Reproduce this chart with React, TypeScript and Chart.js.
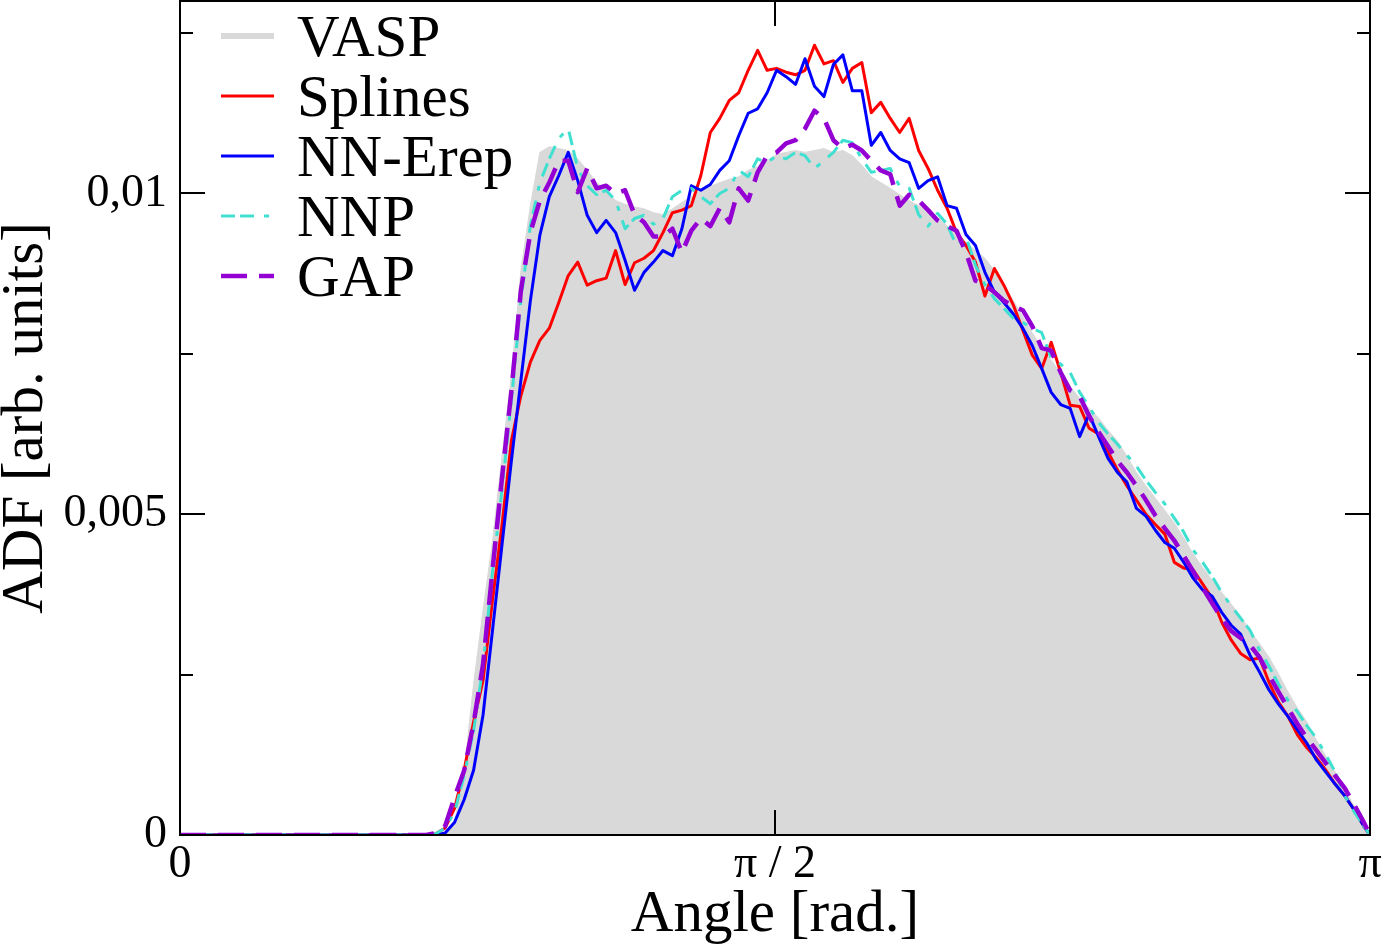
import React, { useEffect, useRef } from "react";
import { Chart, ChartConfiguration, Plugin, registerables } from "chart.js";

Chart.register(...registerables);

// angle in radians, shared by every series
const angles = [
  0, 0.3, 0.6, 0.625,
  0.65, 0.675, 0.7, 0.725, 0.75, 0.775, 0.8, 0.825, 0.85, 0.875,
  0.9, 0.925, 0.95, 0.975, 1.0, 1.025, 1.05, 1.075, 1.1, 1.125,
  1.15, 1.175, 1.2, 1.225, 1.25, 1.275, 1.3, 1.325, 1.35, 1.375,
  1.4, 1.425, 1.45, 1.475, 1.5, 1.525, 1.55, 1.575, 1.6, 1.625,
  1.65, 1.675, 1.7, 1.725, 1.75, 1.775, 1.8, 1.825, 1.85, 1.875,
  1.9, 1.925, 1.95, 1.975, 2.0, 2.025, 2.05, 2.075, 2.1, 2.125,
  2.15, 2.175, 2.2, 2.225, 2.25, 2.275, 2.3, 2.325, 2.35, 2.375,
  2.4, 2.425, 2.45, 2.475, 2.5, 2.525, 2.55, 2.575, 2.6, 2.625,
  2.65, 2.675, 2.7, 2.725, 2.75, 2.775, 2.8, 2.825, 2.85, 2.875,
  2.9, 2.925, 2.95, 2.975, 3.0, 3.025, 3.05, 3.075, 3.1, 3.125,
  3.14159,
];

const vasp = [
  0, 0, 0, 0,
  0, 0, 0.00002, 0.0002, 0.00098, 0.00235, 0.0035, 0.00458, 0.0059, 0.00717,
  0.0088, 0.00981, 0.01064, 0.01073, 0.0107, 0.01067, 0.01054, 0.01036, 0.01017, 0.01005,
  0.00989, 0.00983, 0.00979, 0.00976, 0.0097, 0.00967, 0.00976, 0.00986, 0.00995, 0.01005,
  0.01011, 0.01017, 0.01022, 0.01026, 0.01036, 0.01042, 0.01051, 0.01061, 0.01064, 0.01067,
  0.01064, 0.01067, 0.0107, 0.01064, 0.01067, 0.01059, 0.01044, 0.01026, 0.01017, 0.01008,
  0.00998, 0.00989, 0.00981, 0.00972, 0.00963, 0.00949, 0.00938, 0.00924, 0.00911, 0.00899,
  0.0088, 0.00857, 0.00833, 0.00808, 0.00783, 0.0076, 0.0074, 0.0072, 0.00699, 0.00681,
  0.00665, 0.0065, 0.00631, 0.00614, 0.0059, 0.00565, 0.00544, 0.00525, 0.00506, 0.00486,
  0.00463, 0.00438, 0.00417, 0.00397, 0.00378, 0.0036, 0.00341, 0.00319, 0.00298, 0.00277,
  0.00251, 0.00223, 0.00198, 0.00176, 0.00148, 0.00123, 0.00098, 0.0007, 0.00045, 0.00017,
  0,
];

const splines = [
  0, 0, 0, 0,
  0, 0.00002, 0.00011, 0.00042, 0.00101, 0.00176, 0.00241, 0.00366, 0.00483, 0.00615,
  0.00685, 0.00737, 0.00771, 0.0079, 0.0083, 0.00872, 0.00893, 0.00857, 0.00864, 0.00868,
  0.00911, 0.00858, 0.00892, 0.00899, 0.00911, 0.00939, 0.0097, 0.00974, 0.00981, 0.01028,
  0.01095, 0.01117, 0.01145, 0.01157, 0.01192, 0.01223, 0.01192, 0.01195, 0.01189, 0.01185,
  0.01192, 0.01231, 0.01202, 0.01207, 0.01173, 0.01195, 0.01204, 0.01126, 0.01142, 0.01117,
  0.01095, 0.01117, 0.01067, 0.01039, 0.01005, 0.00977, 0.00939, 0.00919, 0.00893, 0.0084,
  0.00883, 0.00857, 0.00826, 0.00787, 0.00748, 0.00727, 0.00768, 0.00721, 0.0067, 0.00668,
  0.00634, 0.00625, 0.00597, 0.00569, 0.00544, 0.00522, 0.005, 0.00484, 0.00469, 0.00425,
  0.00416, 0.00413, 0.00391, 0.00369, 0.00332, 0.00304, 0.00283, 0.00273, 0.00276, 0.00238,
  0.00207, 0.00185, 0.00156, 0.00136, 0.0012, 0.00101, 0.00079, 0.00061, 0.00039, 0.00014,
  0,
];

const nnErep = [
  0, 0, 0, 0,
  0, 0, 0.00003, 0.0002, 0.00055, 0.00101, 0.00187, 0.00319, 0.00452, 0.00584,
  0.00709, 0.00833, 0.00935, 0.00995, 0.01028, 0.01064, 0.0102, 0.00966, 0.00939, 0.00958,
  0.00939, 0.00896, 0.00849, 0.00877, 0.00893, 0.00911, 0.00903, 0.00945, 0.01012, 0.01005,
  0.01014, 0.01036, 0.01051, 0.0109, 0.01125, 0.01132, 0.01157, 0.01192, 0.01182, 0.0117,
  0.0121, 0.01167, 0.01151, 0.01201, 0.01216, 0.0116, 0.0116, 0.01075, 0.01095, 0.01067,
  0.01054, 0.01048, 0.01008, 0.0102, 0.01026, 0.00981, 0.00977, 0.00936, 0.00919, 0.00877,
  0.00846, 0.0083, 0.00812, 0.0079, 0.00763, 0.00727, 0.0069, 0.00671, 0.00665, 0.00621,
  0.00656, 0.00621, 0.00587, 0.00565, 0.0055, 0.00509, 0.00497, 0.00475, 0.00456, 0.00447,
  0.00425, 0.004, 0.00382, 0.00372, 0.00347, 0.00327, 0.00313, 0.0028, 0.00254, 0.00226,
  0.00204, 0.00185, 0.00164, 0.00143, 0.00117, 0.00098, 0.00079, 0.00061, 0.00039, 0.00014,
  0,
];

const nnp = [
  0, 0, 0, 0,
  0, 0.00002, 0.00011, 0.00036, 0.00093, 0.00162, 0.00263, 0.0041, 0.00537, 0.00678,
  0.00833, 0.0095, 0.01017, 0.01054, 0.01086, 0.01101, 0.01039, 0.01012, 0.00998, 0.01005,
  0.00989, 0.00945, 0.00961, 0.00966, 0.00952, 0.00961, 0.00995, 0.01005, 0.01008, 0.00995,
  0.00984, 0.01, 0.01008, 0.01036, 0.01026, 0.01054, 0.01048, 0.01059, 0.01054, 0.01064,
  0.01059, 0.01039, 0.01051, 0.01064, 0.01083, 0.01079, 0.01054, 0.01033, 0.01036, 0.01039,
  0.01011, 0.01008, 0.00967, 0.00949, 0.00969, 0.00952, 0.00919, 0.00933, 0.00888, 0.00858,
  0.00836, 0.00821, 0.00805, 0.00799, 0.0079, 0.00783, 0.00743, 0.00734, 0.00721, 0.0069,
  0.00668, 0.00643, 0.00625, 0.00609, 0.00592, 0.00575, 0.00553, 0.00534, 0.00516, 0.00494,
  0.00472, 0.00444, 0.00425, 0.00403, 0.00378, 0.00357, 0.00338, 0.00319, 0.00288, 0.00263,
  0.00235, 0.0021, 0.00192, 0.0017, 0.00151, 0.00125, 0.00098, 0.00061, 0.00036, 0.00014,
  0,
];

const gap = [
  0, 0, 0, 0,
  0, 0.00003, 0.00014, 0.00059, 0.001, 0.00174, 0.00266, 0.00413, 0.00556, 0.00693,
  0.00849, 0.00939, 0.00989, 0.01017, 0.01051, 0.01051, 0.01002, 0.01039, 0.01008, 0.01012,
  0.01, 0.01005, 0.00967, 0.00955, 0.00933, 0.00933, 0.00945, 0.00908, 0.00942, 0.00961,
  0.00949, 0.00977, 0.00955, 0.01008, 0.00989, 0.01033, 0.01059, 0.01064, 0.01078, 0.01083,
  0.01101, 0.01129, 0.01117, 0.01083, 0.0107, 0.01076, 0.01067, 0.01051, 0.01036, 0.0103,
  0.00981, 0.00998, 0.00989, 0.00974, 0.00958, 0.00949, 0.00942, 0.00908, 0.00864, 0.00858,
  0.00846, 0.00833, 0.00824, 0.00818, 0.00793, 0.00759, 0.00755, 0.00721, 0.00693, 0.00684,
  0.00653, 0.00628, 0.00606, 0.00583, 0.00565, 0.00544, 0.00522, 0.00498, 0.00478, 0.00459,
  0.00435, 0.00411, 0.00385, 0.00361, 0.00338, 0.00318, 0.00307, 0.00296, 0.00277, 0.00249,
  0.00223, 0.00198, 0.00173, 0.00151, 0.00132, 0.00112, 0.00092, 0.00073, 0.00047, 0.0002,
  0,
];

const seriesNames = ["VASP", "Splines", "NN-Erep", "NNP", "GAP"];

const yTickValues = [0, 0.005, 0.01];
const yTickLabels = ["0", "0,005", "0,01"];
const yMinorTicks = [0.0025, 0.0075, 0.0125];
const xTickValues = [0, Math.PI / 2, Math.PI];
const xTickLabels = ["0", "π / 2", "π"];

const FONT = "'Liberation Serif', 'Times New Roman', serif";

const toPoints = (ys: number[]) => angles.map((x, i) => ({ x, y: ys[i] }));

// closed box with inward ticks, grace style
const framePlugin: Plugin = {
  id: "frame",
  afterDatasetsDraw(chart) {
    const { ctx, chartArea, scales } = chart;
    const { left, right, top, bottom } = chartArea;
    ctx.save();
    ctx.strokeStyle = "#000";
    ctx.lineWidth = 2;
    ctx.beginPath();
    yTickValues.concat(yMinorTicks).forEach((v, i) => {
      const len = i < yTickValues.length ? 25 : 13;
      const py = Math.round(scales.y.getPixelForValue(v));
      ctx.moveTo(left, py);
      ctx.lineTo(left + len, py);
      ctx.moveTo(right, py);
      ctx.lineTo(right - len, py);
    });
    xTickValues.forEach((v) => {
      const px = Math.round(scales.x.getPixelForValue(v));
      ctx.moveTo(px, bottom);
      ctx.lineTo(px, bottom - 25);
      ctx.moveTo(px, top);
      ctx.lineTo(px, top + 25);
    });
    ctx.stroke();
    ctx.strokeRect(left, top, right - left, bottom - top);
    ctx.restore();
  },
};

const legendPlugin: Plugin = {
  id: "boxLegend",
  afterDraw(chart) {
    const { ctx, chartArea } = chart;
    ctx.save();
    ctx.font = `59px ${FONT}`;
    ctx.fillStyle = "#000";
    chart.data.datasets.forEach((ds: any, i: number) => {
      const y = chartArea.top + 35 + i * 60;
      const x0 = chartArea.left + 41;
      ctx.strokeStyle = ds.borderColor;
      ctx.lineWidth = ds.legendWidth ?? ds.borderWidth;
      ctx.setLineDash(ds.borderDash ?? []);
      ctx.beginPath();
      ctx.moveTo(x0, y);
      ctx.lineTo(x0 + 53, y);
      ctx.stroke();
      ctx.setLineDash([]);
      ctx.fillText(ds.label, x0 + 76, y + 20);
    });
    ctx.restore();
  },
};

const config: ChartConfiguration = {
  type: "line",
  data: {
    datasets: [
      {
        label: seriesNames[0],
        data: toPoints(vasp),
        borderColor: "#d9d9d9",
        backgroundColor: "#d9d9d9",
        borderWidth: 1,
        fill: "origin",
        order: 5,
        legendWidth: 6,
      } as any,
      {
        label: seriesNames[1],
        data: toPoints(splines),
        borderColor: "#ff0000",
        borderWidth: 3,
        fill: false,
        order: 4,
      },
      {
        label: seriesNames[2],
        data: toPoints(nnErep),
        borderColor: "#0000ff",
        borderWidth: 3,
        fill: false,
        order: 3,
      },
      {
        label: seriesNames[3],
        data: toPoints(nnp),
        borderColor: "#40e0d0",
        borderWidth: 3,
        borderDash: [14, 5, 14, 10, 5, 10],
        fill: false,
        order: 2,
      },
      {
        label: seriesNames[4],
        data: toPoints(gap),
        borderColor: "#9400d3",
        borderWidth: 4.5,
        borderDash: [26, 12],
        fill: false,
        order: 1,
      },
    ],
  },
  options: {
    responsive: false,
    animation: false,
    devicePixelRatio: 1,
    events: [],
    layout: { padding: { top: 1, right: 14, left: 0, bottom: 0 } },
    elements: {
      point: { radius: 0 },
      line: { tension: 0, borderJoinStyle: "round" },
    },
    plugins: {
      legend: { display: false },
      tooltip: { enabled: false },
    },
    scales: {
      x: {
        type: "linear",
        min: 0,
        max: Math.PI,
        afterBuildTicks: (scale) => {
          scale.ticks = xTickValues.map((value) => ({ value }));
        },
        afterFit: (scale: any) => {
          scale.height = 112;
          scale.paddingLeft = 0;
          scale.paddingRight = 0;
        },
        grid: { display: false, drawTicks: false },
        border: { display: false },
        ticks: {
          callback: (_v, i) => xTickLabels[i],
          autoSkip: false,
          maxRotation: 0,
          minRotation: 0,
          padding: 2,
          color: "#000",
          font: { family: FONT, size: 46 },
        },
        title: {
          display: true,
          text: "Angle [rad.]",
          color: "#000",
          font: { family: FONT, size: 59, lineHeight: 1 },
          padding: { top: 0, bottom: 2.5 },
        },
      },
      y: {
        type: "linear",
        min: 0,
        max: 0.013,
        afterBuildTicks: (scale) => {
          scale.ticks = yTickValues.map((value) => ({ value }));
        },
        afterFit: (scale: any) => {
          scale.width = 180;
          scale.paddingTop = 0;
          scale.paddingBottom = 0;
        },
        grid: { display: false, drawTicks: false },
        border: { display: false },
        ticks: {
          callback: (_v, i) => yTickLabels[i],
          padding: 13,
          color: "#000",
          font: { family: FONT, size: 46 },
        },
        title: {
          display: true,
          text: "ADF [arb. units]",
          color: "#000",
          font: { family: FONT, size: 59, lineHeight: 0.8 },
          padding: { top: 2.5, bottom: 0 },
        },
      },
    },
  },
  plugins: [framePlugin, legendPlugin],
};

export default function App() {
  const chartRef = useRef<HTMLCanvasElement | null>(null);

  useEffect(() => {
    if (!chartRef.current) {
      return;
    }
    const chartInstance = new Chart(chartRef.current, config);
    return () => {
      chartInstance.destroy();
    };
  }, [chartRef]);

  return (
    <div
      style={{
        position: "fixed",
        left: 0,
        top: 0,
        width: 1384,
        height: 947,
        background: "#fff",
      }}
    >
      <canvas ref={chartRef} width={1384} height={947} style={{ display: "block" }} />
    </div>
  );
}
